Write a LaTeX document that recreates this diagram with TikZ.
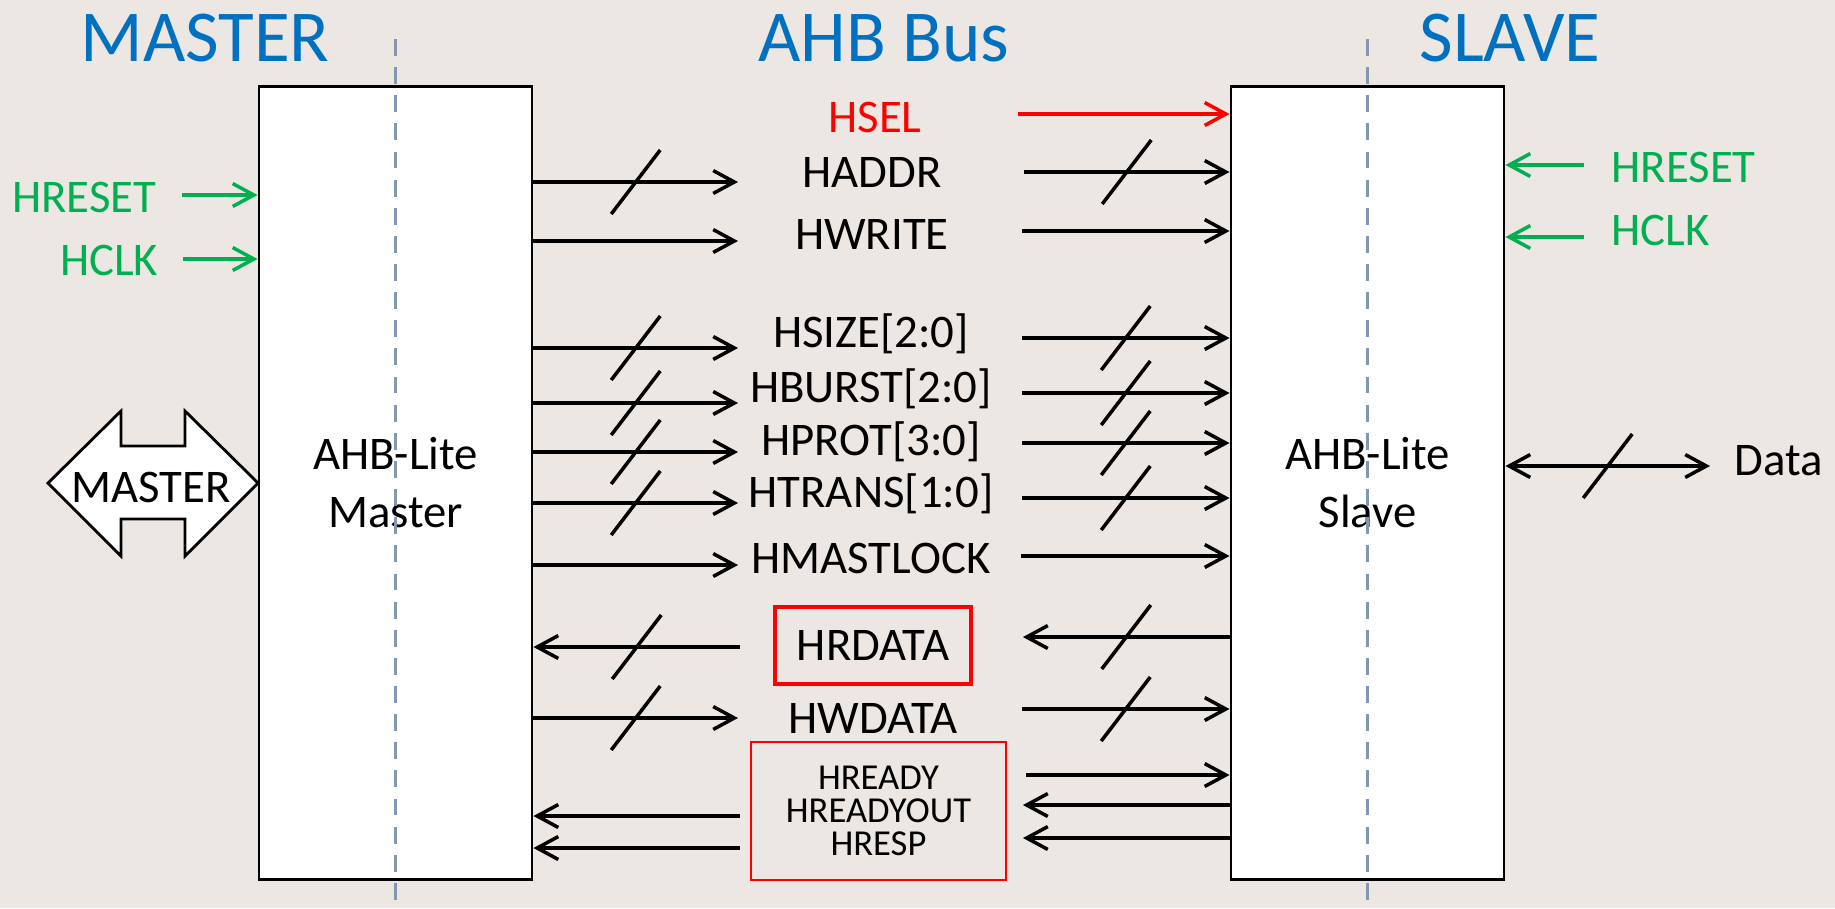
\documentclass[tikz,border=0pt]{standalone}
\usepackage{fontspec}
\setmainfont{Carlito}
\usetikzlibrary{arrows.meta,positioning}

\definecolor{titleblue}{HTML}{0070C0}
\definecolor{selred}{HTML}{FF0000}
\definecolor{clkgreen}{HTML}{00B050}
\definecolor{splitgray}{HTML}{8497B0}
\definecolor{bgpaper}{RGB}{237,231,228}

\newcommand{\titlefont}{\fontsize{20.8}{25}\selectfont}
\newcommand{\sigfont}{\fontsize{13.3}{16.5}\selectfont}
\newcommand{\respfont}{\fontsize{10.4}{9.3}\selectfont}

\tikzset{
  >={Straight Barb[length=6pt,width=6.5pt]},
  blk/.style={draw, fill=white, line width=0.8pt, minimum width=2.73cm,
    minimum height=7.92cm, align=center, font=\sigfont, inner sep=0pt},
  ttl/.style={anchor=base, inner sep=0pt, text=titleblue, font=\titlefont},
  lbl/.style={anchor=base, inner sep=0pt, font=\sigfont},
  sig/.style={line width=1pt, ->},
  clk/.style={sig, draw=clkgreen},
  slash/.style={line width=1pt},
  divider/.style={draw=splitgray, line width=0.85pt, dash pattern=on 4.8pt off 3.2pt}
}

\begin{document}
\begin{tikzpicture}[x=0.01cm, y=-0.01cm]
% background
\fill[bgpaper] (0,0) rectangle (1835,908);
\useasboundingbox (0,0) rectangle (1835,908);

% titles
\node[ttl] (ttlm) at (205,61) {MASTER};
\node[ttl] (ttlb) at (884,61) {AHB Bus};
\node[ttl] (ttls) at (1510,61) {SLAVE};

% blocks
\node[blk] (master) at (395.5,483) {AHB-Lite\\Master};
\node[blk] (slave) at (1367.5,483) {AHB-Lite\\Slave};

% split lines
\draw[divider] (master.center |- 0,39) -- (master.center |- 0,908);
\draw[divider] (slave.center |- 0,39) -- (slave.center |- 0,908);

% master port arrow
\draw[fill=white, line width=0.8pt] (48,483) -- (121,411) -- (121,446) -- (185,446)
  -- (185,411) -- (258,483) -- (185,556) -- (185,519) -- (121,519) -- (121,556) -- cycle;
\node[lbl] (mport) at (151,502) {MASTER};

% clock and reset
\node[lbl, anchor=base east, text=clkgreen] (rstm) at (157,212) {HRESET};
\node[lbl, anchor=base east, text=clkgreen] (clkm) at (159,275) {HCLK};
\coordinate (rstmL) at (182,195);
\coordinate (clkmL) at (183,259);
\draw[clk] (rstmL) -- (master.west |- rstmL);
\draw[clk] (clkmL) -- (master.west |- clkmL);

\node[lbl, anchor=base west, text=clkgreen] (rsts) at (1611,182) {HRESET};
\node[lbl, anchor=base west, text=clkgreen] (clks) at (1611,245) {HCLK};
\coordinate (rstsR) at (1584,165);
\coordinate (clksR) at (1584,237);
\draw[clk] (rstsR) -- (slave.east |- rstsR);
\draw[clk] (clksR) -- (slave.east |- clksR);

% bus signal names
\node[lbl, text=selred] (hsel) at (875,132) {HSEL};
\node[lbl] (haddr) at (872,187) {HADDR};
\node[lbl] (hwrite) at (872,249) {HWRITE};
\node[lbl] (hsize) at (871,347) {HSIZE[2:0]};
\node[lbl] (hburst) at (871,402) {HBURST[2:0]};
\node[lbl] (hprot) at (871,455) {HPROT[3:0]};
\node[lbl] (htrans) at (871,507) {HTRANS[1:0]};
\node[lbl] (hlock) at (871,573) {HMASTLOCK};
\node[draw=selred, line width=1.3pt, minimum width=1.96cm, minimum height=0.77cm,
  font=\sigfont] (hrdata) at (873,645.5) {HRDATA};
\node[lbl] (hwdata) at (873,733) {HWDATA};
\node[draw=selred, line width=0.6pt, minimum width=2.55cm, minimum height=1.38cm,
  align=center, font=\respfont] (hresp) at (878.5,811) {HREADY\\HREADYOUT\\HRESP};

% master -> bus
\foreach \nm/\y/\w in {addr/182/1, write/241/0, size/348/1, burst/403/1,
    prot/452/1, trans/503/1, lock/565/0, wdata/718/1} {
  \coordinate (m\nm) at (738,\y);
  \draw[sig] (master.east |- m\nm) -- (m\nm) coordinate[midway] (ms\nm);
  \ifnum\w=1 \draw[slash] (ms\nm) +(-24.5,32) -- +(24.5,-32); \fi
}
% bus -> master
\foreach \nm/\y/\w in {rdata/647/1, ready/816/0, resp/848/0} {
  \coordinate (m\nm) at (740,\y);
  \draw[sig] (m\nm) -- (master.east |- m\nm) coordinate[midway] (ms\nm);
  \ifnum\w=1 \draw[slash] (ms\nm) +(-24.5,32) -- +(24.5,-32); \fi
}

% bus -> slave
\coordinate (ssel) at (1018,114);
\draw[sig, draw=selred] (ssel) -- (slave.west |- ssel);
\foreach \nm/\x/\y/\w in {addr/1024/172/1, write/1022/231/0, size/1022/338/1,
    burst/1022/393/1, prot/1022/443/1, trans/1022/498/1, lock/1021/556/0,
    wdata/1022/709/1, ready/1026/775/0} {
  \coordinate (s\nm) at (\x,\y);
  \draw[sig] (s\nm) -- (slave.west |- s\nm) coordinate[midway] (ss\nm);
  \ifnum\w=1 \draw[slash] (ss\nm) +(-24.5,32) -- +(24.5,-32); \fi
}
% slave -> bus
\foreach \nm/\y/\w in {rdata/637/1, rdyout/805/0, resp/838/0} {
  \coordinate (s\nm) at (1023,\y);
  \draw[sig] (slave.west |- s\nm) -- (s\nm) coordinate[midway] (ss\nm);
  \ifnum\w=1 \draw[slash] (ss\nm) +(-24.5,32) -- +(24.5,-32); \fi
}

% data port
\coordinate (dataR) at (1710,466);
\draw[sig, <->] (slave.east |- dataR) -- (dataR) coordinate[midway] (dmid);
\draw[slash] (dmid) +(-24.5,32) -- +(24.5,-32);
\node[lbl, anchor=base west] (data) at (1734,475) {Data};

\end{tikzpicture}
\end{document}
